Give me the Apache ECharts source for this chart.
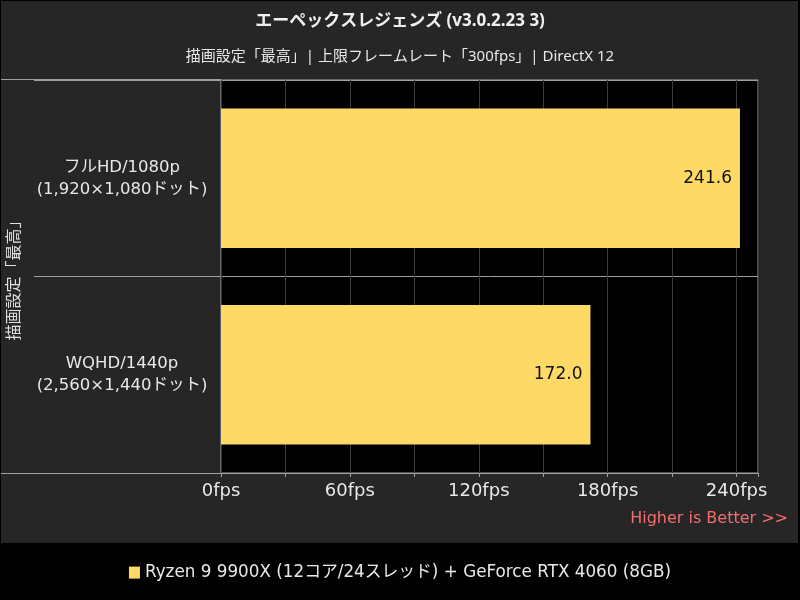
<!DOCTYPE html>
<html><head><meta charset="utf-8">
<script src="https://cdn.jsdelivr.net/npm/echarts@6/dist/echarts.min.js"></script>
<style>html,body{margin:0;padding:0;background:#000}#c{width:800px;height:600px}</style>
</head><body><div id="c"></div>
<script>
const titleText = 'エーペックスレジェンズ (v3.0.2.23 3)';
const subtitleText = '描画設定「最高」| 上限フレームレート「300fps」| DirectX 12';
const categories = ['フルHD/1080p\n(1,920×1,080ドット)', 'WQHD/1440p\n(2,560×1,440ドット)'];
const seriesName = 'Ryzen 9 9900X (12コア/24スレッド) + GeForce RTX 4060 (8GB)';
const values = [241.6, 172.0];
const axisName = '描画設定「最高」';
const xTicks = [0, 60, 120, 180, 240];
const FONT = '"DejaVu Sans", "Noto Sans CJK JP", sans-serif';
const FONT2 = '"Noto Sans", "Noto Sans CJK JP", sans-serif';

const chart = echarts.init(document.getElementById('c'));
chart.setOption({
  backgroundColor: '#000',
  textStyle: { fontFamily: FONT },
  graphic: [
    { type: 'rect', z: -10, shape: { x: 1, y: 1, width: 797, height: 542 }, style: { fill: '#262626' } },
    { type: 'line', z: 10, shape: { x1: 1, y1: 79.5, x2: 221, y2: 79.5 }, style: { stroke: '#a0a0a0', lineWidth: 1 } },
    { type: 'line', z: 10, shape: { x1: 1, y1: 473.5, x2: 221, y2: 473.5 }, style: { stroke: '#a0a0a0', lineWidth: 1 } },
    { type: 'text', right: 12, top: 511, style: { text: 'Higher is Better >>', fill: '#f26d6d', fontSize: 16, fontFamily: FONT } }
  ],
  title: [
    { text: titleText, left: 'center', top: 8, textStyle: { color: '#f0f0f0', fontSize: 17, fontWeight: 'bold', fontFamily: FONT2 } },
    { text: subtitleText, left: 'center', top: 44, textStyle: { color: '#e8e8e8', fontSize: 15, fontWeight: 'normal', fontFamily: FONT2 } }
  ],
  legend: {
    bottom: 14, left: 'center', itemWidth: 11, itemHeight: 12, icon: 'rect', itemGap: 6,
    textStyle: { color: '#e8e8e8', fontSize: 16.8, fontFamily: FONT },
    data: [seriesName]
  },
  grid: { left: 221, right: 42, top: 80, bottom: 127, outerBoundsMode: 'none', containLabel: false, show: true, backgroundColor: '#000', borderColor: '#a0a0a0', borderWidth: 1 },
  xAxis: {
    type: 'value', min: 0, max: 250, interval: 30,
    axisLine: { show: false },
    axisTick: { show: true, length: 4, lineStyle: { color: '#a0a0a0' } },
    splitLine: { show: true, lineStyle: { color: '#3a3a3a', width: 1 } },
    axisLabel: {
      color: '#e8e8e8', fontSize: 18, margin: 9, fontFamily: FONT,
      formatter: v => xTicks.includes(v) ? v + 'fps' : ''
    }
  },
  yAxis: {
    type: 'category', data: categories, inverse: true,
    name: axisName, nameLocation: 'middle', nameGap: 199, nameRotate: 90,
    nameTextStyle: { color: '#e0e0e0', fontSize: 16, fontFamily: FONT2 },
    axisLine: { show: false },
    axisTick: { show: true, length: 187, lineStyle: { color: '#a0a0a0' } },
    splitLine: { show: true, lineStyle: { color: '#a0a0a0' } },
    axisLabel: { color: '#e8e8e8', fontSize: 16.5, lineHeight: 22, align: 'center', margin: 99, fontFamily: FONT }
  },
  series: [{
    name: seriesName, type: 'bar', data: values, barCategoryGap: '29%',
    itemStyle: { color: '#fed966' },
    label: { show: true, position: 'insideRight', distance: 8, color: '#111', fontSize: 17, fontFamily: FONT, formatter: p => p.value.toFixed(1) }
  }]
});
</script></body></html>
